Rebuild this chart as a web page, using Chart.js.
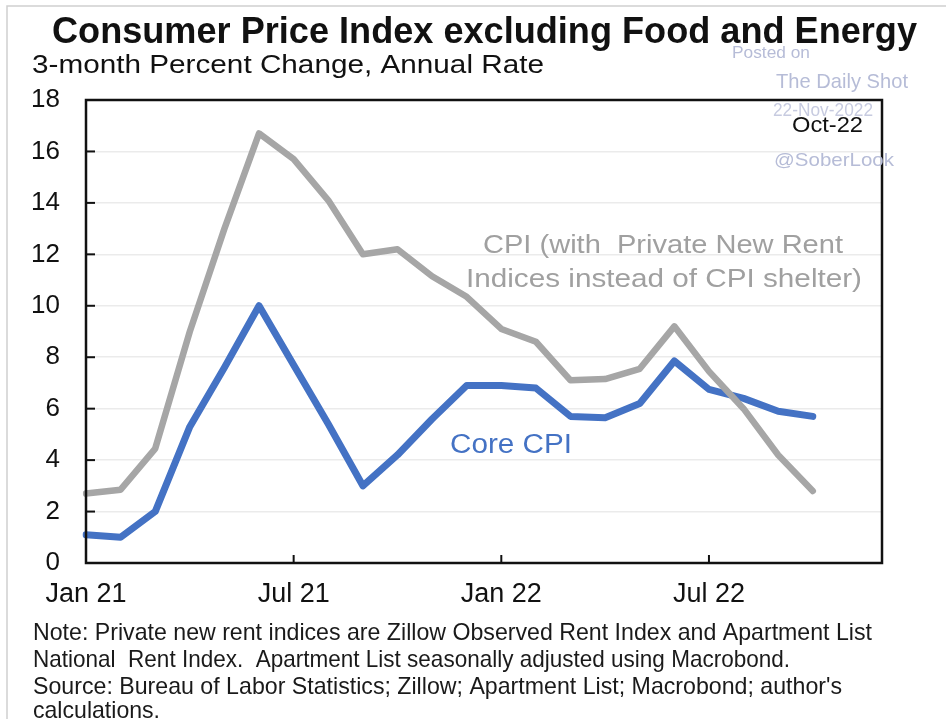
<!DOCTYPE html>
<html>
<head>
<meta charset="utf-8">
<title>Consumer Price Index excluding Food and Energy</title>
<script src="https://cdn.jsdelivr.net/npm/chart.js@4.4.1/dist/chart.umd.min.js"></script>
<style>
  html, body { margin: 0; padding: 0; background: #ffffff; }
  #wrap { width: 946px; height: 719px; }
</style>
</head>
<body>
<div id="wrap"><canvas id="cpi" width="946" height="719"></canvas></div>
<script>
// Monthly categories, Jan 2021 through Dec 2022 (axis runs to Dec 22)
const months = [
  'Jan 21','Feb 21','Mar 21','Apr 21','May 21','Jun 21','Jul 21','Aug 21','Sep 21','Oct 21','Nov 21','Dec 21',
  'Jan 22','Feb 22','Mar 22','Apr 22','May 22','Jun 22','Jul 22','Aug 22','Sep 22','Oct 22','Nov 22','Dec 22'
];
const tickLabels = ['Jan 21', 'Jul 21', 'Jan 22', 'Jul 22'];

// 3-month percent change, annual rate (Jan 21 .. Oct 22)
const coreCpi = [1.1, 1.0, 2.0, 5.3, 7.6, 10.0, 7.7, 5.4, 3.0, 4.2, 5.6, 6.9,
                 6.9, 6.8, 5.7, 5.65, 6.2, 7.85, 6.75, 6.4, 5.9, 5.7];
const cpiPrivateRent = [2.7, 2.85, 4.45, 9.0, 13.0, 16.7, 15.7, 14.1, 12.0, 12.2, 11.15, 10.35,
                        9.1, 8.6, 7.1, 7.15, 7.55, 9.2, 7.45, 6.0, 4.2, 2.8];

const yTicks = [0, 2, 4, 6, 8, 10, 12, 14, 16, 18];

const titleText = 'Consumer Price Index excluding Food and Energy';
const subtitleText = '3-month Percent Change, Annual Rate';
const noteLines = [
  'Note: Private new rent indices are Zillow Observed Rent Index and Apartment List',
  'National  Rent Index.  Apartment List seasonally adjusted using Macrobond.',
  "Source: Bureau of Labor Statistics; Zillow; Apartment List; Macrobond; author's",
  'calculations.'
];

const FONT = '"Liberation Sans", Arial, Helvetica, sans-serif';
const BLUE = '#4472c4';
const GREY = '#a6a6a6';
const MARK = '#b6bcd7';

// Draw a text run stretched/condensed to a given width, left edge at x, baseline at y
function fitText(ctx, text, x, y, width, size, color, weight) {
  ctx.save();
  ctx.font = (weight || 'normal') + ' ' + size + 'px ' + FONT;
  ctx.fillStyle = color;
  ctx.textAlign = 'left';
  ctx.textBaseline = 'alphabetic';
  const w = ctx.measureText(text).width;
  ctx.translate(x, y);
  ctx.scale(width / w, 1);
  ctx.fillText(text, 0, 0);
  ctx.restore();
}

const decorations = {
  id: 'decorations',
  beforeDraw(chart) {
    const ctx = chart.ctx;
    ctx.save();
    ctx.fillStyle = '#ffffff';
    ctx.fillRect(0, 0, chart.width, chart.height);
    // thin outer frame (top and left edges visible)
    ctx.strokeStyle = '#cfcfcf';
    ctx.lineWidth = 1.5;
    ctx.strokeRect(7, 6, chart.width + 20, chart.height + 20);
    ctx.restore();
  },
  afterDraw(chart) {
    const ctx = chart.ctx;
    const a = chart.chartArea;
    const x = chart.scales.x;
    const y = chart.scales.y;

    ctx.save();
    // plot frame
    ctx.strokeStyle = '#111111';
    ctx.lineWidth = 2.5;
    ctx.strokeRect(a.left, a.top, a.right - a.left, a.bottom - a.top);

    // inward tick marks on the value axis
    ctx.lineWidth = 2;
    yTicks.forEach(v => {
      const py = y.getPixelForValue(v);
      ctx.beginPath();
      ctx.moveTo(a.left, py);
      ctx.lineTo(a.left + 9, py);
      ctx.stroke();
    });
    // inward tick marks on the date axis
    tickLabels.forEach(lbl => {
      const i = months.indexOf(lbl);
      if (i <= 0) return;
      const px = x.getPixelForValue(i);
      ctx.beginPath();
      ctx.moveTo(px, a.bottom);
      ctx.lineTo(px, a.bottom - 8);
      ctx.stroke();
    });
    ctx.restore();

    // headings
    fitText(ctx, titleText, 52, 43, 865, 36, '#111111', 'bold');
    fitText(ctx, subtitleText, 32, 73, 512, 26, '#111111');

    // series labels
    fitText(ctx, 'CPI (with  Private New Rent', 483, 253, 360, 25, '#a0a0a0');
    fitText(ctx, 'Indices instead of CPI shelter)', 466, 286.5, 396, 25, '#a0a0a0');
    fitText(ctx, 'Core CPI', 450, 453, 122, 27, BLUE);

    // latest observation
    fitText(ctx, 'Oct-22', 792, 131.5, 71, 22, '#111111');

    // notes
    const noteBase = [640, 667, 694, 718];
    const noteWidth = [839, 757, 809, 127];
    noteLines.forEach((t, i) => fitText(ctx, t, 33, noteBase[i], noteWidth[i], 24, '#1a1a1a'));

    // attribution marks
    fitText(ctx, 'Posted on', 732, 57.5, 78, 17, MARK);
    fitText(ctx, 'The Daily Shot', 776, 88, 132, 21, MARK);
    fitText(ctx, '22-Nov-2022', 773, 116, 100, 18, '#c7cbe0');
    fitText(ctx, '@SoberLook', 774, 166, 120, 19, MARK);
  }
};

new Chart(document.getElementById('cpi'), {
  type: 'line',
  data: {
    labels: months,
    datasets: [
      {
        label: 'Core CPI',
        data: coreCpi,
        borderColor: BLUE,
        backgroundColor: BLUE,
        borderWidth: 7,
        pointRadius: 0,
        tension: 0,
        borderCapStyle: 'round',
        borderJoinStyle: 'round',
        order: 2
      },
      {
        label: 'CPI (with Private New Rent Indices instead of CPI shelter)',
        data: cpiPrivateRent,
        borderColor: GREY,
        backgroundColor: GREY,
        borderWidth: 6.5,
        pointRadius: 0,
        tension: 0,
        borderCapStyle: 'round',
        borderJoinStyle: 'round',
        order: 1
      }
    ]
  },
  options: {
    responsive: false,
    animation: false,
    devicePixelRatio: 1,
    layout: { padding: { left: 0, right: 64, top: 100, bottom: 0 } },
    plugins: {
      legend: { display: false },
      tooltip: { enabled: false },
      title: { display: false }
    },
    scales: {
      x: {
        type: 'category',
        offset: false,
        grid: { display: false, drawTicks: false },
        border: { display: false },
        ticks: {
          autoSkip: false,
          maxRotation: 0,
          minRotation: 0,
          padding: 15,
          color: '#111111',
          font: { family: FONT, size: 27 },
          callback: (v, i) => (tickLabels.includes(months[i]) ? months[i] : '')
        },
        afterFit: s => { s.height = 156; }
      },
      y: {
        min: 0,
        max: 18,
        grid: { color: '#ebebeb', lineWidth: 1.5, drawTicks: false },
        border: { display: false },
        ticks: {
          stepSize: 2,
          padding: 26,
          color: '#111111',
          font: { family: FONT, size: 26 }
        },
        afterFit: s => { s.width = 86; }
      }
    }
  },
  plugins: [decorations]
});
</script>
</body>
</html>
